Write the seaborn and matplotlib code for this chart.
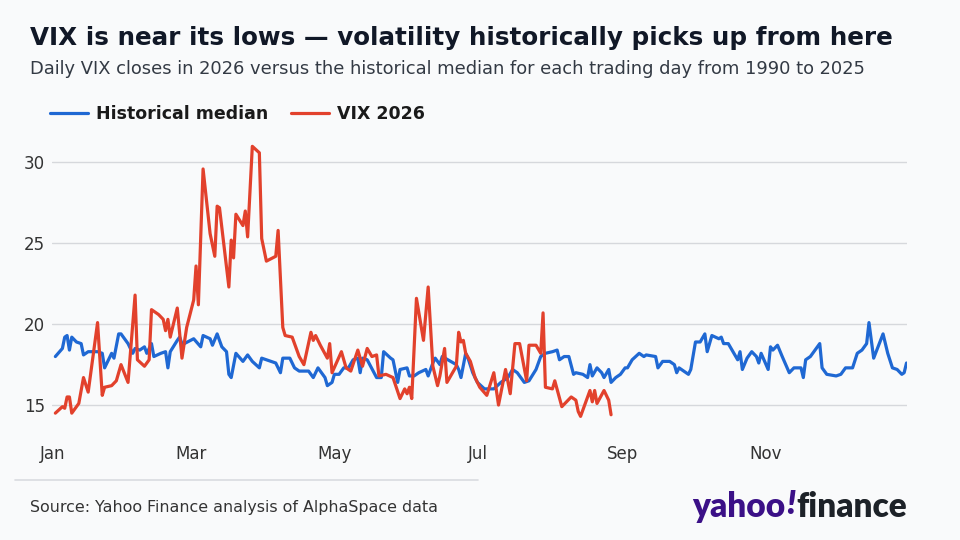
import pandas as pd
import matplotlib
matplotlib.use('Agg')
import matplotlib.pyplot as plt
import matplotlib.dates as mdates
import seaborn as sns

# Historical median (1990-2025) by day of year
median_days = [1, 4, 5, 6, 7, 8, 10, 12, 13, 15, 19, 21, 22, 25, 26, 28, 29, 32, 34, 35,
               37, 39, 40, 42, 43, 46, 48, 49, 50, 53, 54, 55, 56, 60, 63, 64, 67, 68, 70, 72,
               74, 75, 76, 78, 81, 83, 85, 88, 89, 95, 97, 98, 101, 103, 105, 109, 111, 113, 116, 117,
               119, 120, 122, 124, 126, 128, 130, 131, 132, 134, 138, 140, 141, 144, 145, 147, 148, 151, 152, 154,
               156, 159, 160, 162, 163, 165, 166, 172, 173, 174, 176, 177, 179, 181, 184, 188, 191, 194, 196, 198,
               201, 203, 206, 208, 210, 213, 215, 216, 218, 220, 222, 223, 226, 228, 229, 230, 232, 234, 235, 237,
               238, 240, 242, 244, 245, 247, 250, 252, 253, 257, 258, 260, 263, 265, 266, 267, 271, 272, 274, 276,
               278, 279, 281, 284, 285, 286, 288, 292, 293, 294, 296, 298, 300, 301, 302, 305, 306, 307, 309, 311,
               314, 316, 319, 320, 321, 323, 327, 328, 330, 334, 336, 338, 341, 343, 345, 347, 348, 350, 354, 356,
               358, 360, 362, 363, 364]
median_vals = [18.0, 18.5, 19.2, 19.3, 18.4, 19.2, 18.9, 18.8, 18.1, 18.3, 18.3, 18.2, 17.3, 18.2, 17.9, 19.4, 19.4, 18.8, 18.2, 18.5,
               18.4, 18.6, 18.2, 18.8, 18.0, 18.2, 18.3, 17.3, 18.3, 19.0, 19.2, 18.8, 18.8, 19.1, 18.6, 19.3, 19.1, 18.7, 19.4, 18.6,
               18.3, 16.9, 16.7, 18.2, 17.7, 18.1, 17.7, 17.3, 17.9, 17.6, 17.0, 17.9, 17.9, 17.3, 17.1, 17.1, 16.7, 17.3, 16.7, 16.2,
               16.4, 16.9, 16.9, 17.3, 17.3, 17.8, 17.9, 17.0, 17.9, 17.8, 16.7, 16.7, 18.3, 17.9, 17.8, 16.4, 17.2, 17.3, 16.8, 16.8,
               17.0, 17.2, 16.8, 17.6, 17.9, 17.5, 18.0, 17.5, 17.2, 16.7, 18.2, 17.9, 17.0, 16.4, 16.0, 16.0, 16.4, 16.7, 17.2, 17.0,
               16.4, 16.5, 17.2, 18.0, 18.2, 18.3, 18.4, 17.8, 18.0, 18.0, 16.9, 17.0, 16.9, 16.7, 17.5, 16.8, 17.3, 17.0, 16.7, 17.2,
               16.4, 16.7, 16.9, 17.3, 17.3, 17.8, 18.2, 18.0, 18.1, 18.0, 17.3, 17.7, 17.7, 17.5, 17.0, 17.3, 16.9, 17.2, 18.9, 18.9,
               19.4, 18.3, 19.3, 19.1, 19.2, 18.8, 18.8, 17.8, 18.3, 17.2, 17.9, 18.3, 18.0, 17.6, 18.2, 17.2, 18.6, 18.4, 18.7, 18.0,
               17.0, 17.3, 17.3, 16.7, 17.8, 18.0, 18.8, 17.3, 16.9, 16.8, 16.9, 17.3, 17.3, 18.2, 18.4, 18.8, 20.1, 17.9, 19.4, 18.2,
               17.3, 17.2, 16.9, 17.0, 17.6]

# VIX closes in 2026
vix_days = [1, 4, 5, 6, 7, 8, 11, 13, 15, 19, 21, 22, 25, 27, 29, 32, 35, 36, 39, 41,
            42, 45, 47, 48, 49, 50, 53, 55, 57, 60, 61, 62, 64, 67, 69, 70, 71, 75, 76, 77,
            78, 81, 82, 83, 85, 88, 89, 91, 95, 96, 98, 99, 102, 104, 105, 107, 110, 111, 112, 114,
            117, 118, 119, 123, 125, 127, 130, 132, 134, 136, 138, 139, 142, 145, 148, 150, 151, 152, 153, 155,
            158, 160, 162, 164, 165, 167, 168, 172, 173, 174, 175, 176, 178, 180, 182, 185, 188, 190, 193, 195,
            197, 199, 202, 203, 206, 208, 209, 210, 213, 214, 217, 221, 223, 224, 225, 229, 230, 231, 232, 235,
            237, 238]
vix_vals = [14.5, 14.9, 14.8, 15.5, 15.5, 14.5, 15.1, 16.7, 15.8, 20.1, 15.6, 16.1, 16.2, 16.5, 17.5, 16.4, 21.8, 17.8, 17.4, 17.8,
            20.9, 20.6, 20.3, 19.6, 20.3, 19.2, 21.0, 17.9, 19.8, 21.5, 23.6, 21.2, 29.6, 25.6, 24.2, 27.3, 27.2, 22.3, 25.2, 24.1,
            26.8, 26.1, 27.0, 25.4, 31.0, 30.6, 25.3, 23.9, 24.2, 25.8, 19.8, 19.3, 19.2, 18.4, 18.0, 17.5, 19.5, 19.0, 19.3, 18.7,
            17.9, 18.8, 17.0, 18.3, 17.3, 17.1, 18.4, 17.4, 18.5, 18.0, 18.1, 16.8, 16.9, 16.7, 15.4, 16.0, 15.7, 16.1, 15.4, 21.6,
            19.0, 22.3, 17.4, 16.2, 16.8, 18.5, 16.4, 17.4, 19.5, 18.9, 19.0, 18.2, 17.7, 16.7, 16.1, 15.6, 17.0, 15.0, 17.2, 15.7,
            18.8, 18.8, 16.5, 18.7, 18.7, 18.2, 20.7, 16.1, 16.0, 16.5, 14.9, 15.5, 15.3, 14.6, 14.3, 15.9, 15.2, 15.9, 15.1, 15.9,
            15.3, 14.4]

start = pd.Timestamp('2026-01-01')
median_df = pd.DataFrame({'date': start + pd.to_timedelta(median_days, unit='D'), 'vix': median_vals})
vix_df = pd.DataFrame({'date': start + pd.to_timedelta(vix_days, unit='D'), 'vix': vix_vals})

BG = '#f9fafb'
BLUE = '#1f68d3'
RED = '#e2412c'

sns.set_style('white')
plt.rcParams['font.family'] = ['DejaVu Sans']

fig = plt.figure(figsize=(9.6, 5.4), dpi=100, facecolor=BG)
ax = fig.add_axes([0.054, 0.196, 0.891, 0.548], facecolor=BG)

sns.lineplot(data=median_df, x='date', y='vix', color=BLUE, linewidth=2.3, ax=ax, label='Historical median')
sns.lineplot(data=vix_df, x='date', y='vix', color=RED, linewidth=2.3, ax=ax, label='VIX 2026')

ax.set_xlim(start - pd.Timedelta(days=0.5), pd.Timestamp('2026-12-31') + pd.Timedelta(days=0.3))
ax.set_ylim(13.2, 31.5)
ax.set_yticks([15, 20, 25, 30])
ax.xaxis.set_major_locator(mdates.MonthLocator(bymonth=[1, 3, 5, 7, 9, 11]))
ax.xaxis.set_major_formatter(mdates.DateFormatter('%b'))
ax.grid(axis='y', color='#d6d8dc', linewidth=1)
ax.set_axisbelow(True)
for s in ax.spines.values():
    s.set_visible(False)
ax.tick_params(axis='both', length=0, labelsize=12, colors='#333333')
ax.tick_params(axis='x', pad=8)
ax.tick_params(axis='y', pad=5)
ax.set_xlabel('')
ax.set_ylabel('')

ax.legend(loc='upper left', bbox_to_anchor=(0.052, 0.806), bbox_transform=fig.transFigure,
          ncol=2, frameon=False, handlelength=2.2, columnspacing=1.3, handletextpad=0.45,
          prop={'weight': 'bold', 'size': 12.5}, labelcolor='#1a1a1a', borderaxespad=0,
          borderpad=0)

fig.text(0.031, 0.93, 'VIX is near its lows \u2014 volatility historically picks up from here',
         fontsize=17.7, fontweight='bold', color='#111827', va='center')
fig.text(0.031, 0.873, 'Daily VIX closes in 2026 versus the historical median for each trading day from 1990 to 2025',
         fontsize=12.9, color='#333a44', va='center')

fig.add_artist(plt.Line2D([0.016, 0.498], [0.111, 0.111], color='#d9dbe0', linewidth=1.2))
fig.text(0.031, 0.061, 'Source: Yahoo Finance analysis of AlphaSpace data', fontsize=11.4, color='#333333', va='center')

# logo: place pieces one after another
renderer = fig.canvas.get_renderer()
logo_font = dict(fontsize=24, fontweight='heavy', va='center', family=['Lato', 'DejaVu Sans'])
t1 = fig.text(692 / 960, 0.061, 'yahoo', color='#3b1087', **logo_font)
x2 = t1.get_window_extent(renderer).x1 / 960 + 0.001
t2 = fig.text(x2, 0.066, '!', color='#3b1087', style='italic', **logo_font)
x3 = t2.get_window_extent(renderer).x1 / 960 + 0.001
fig.text(x3, 0.061, 'finance', color='#1d2228', **logo_font)

fig.savefig('out.png', dpi=100, facecolor=BG)
